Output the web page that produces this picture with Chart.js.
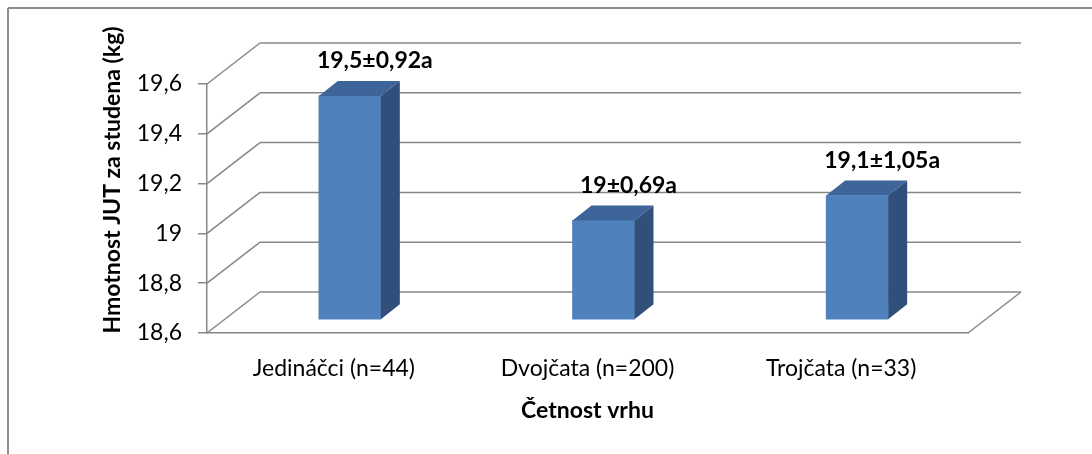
<!DOCTYPE html>
<html>
<head>
<meta charset="utf-8">
<script src="https://cdn.jsdelivr.net/npm/chart.js@4.4.1/dist/chart.umd.min.js"></script>
<style>
    html, body { margin: 0; padding: 0; background: #ffffff; }
    canvas { display: block; }
</style>
</head>
<body>
<canvas id="weightChart" width="1092" height="454"></canvas>
<script>
// ------------------------------------------------------
// Data
// ------------------------------------------------------

const categories = ["Jedináčci (n=44)", "Dvojčata (n=200)", "Trojčata (n=33)"];

const means = [19.5, 19.0, 19.1];

const deviations = [0.92, 0.69, 1.05];

const letters = ["a", "a", "a"];

const yTicks = [18.6, 18.8, 19.0, 19.2, 19.4, 19.6];

const yTitle = "Hmotnost JUT za studena (kg)";

const xTitle = "Četnost vrhu";

// ------------------------------------------------------
// Look of the fake 3D box
// ------------------------------------------------------

const FONT = "Lato, 'Open Sans', sans-serif";

const GRID = "#878787";

const WALL = { dx: 53, dy: -41 };       // back wall offset
const BAR_SHIFT = { dx: 16, dy: -13 };  // bars stand a bit inside the box
const BAR_DEPTH = { dx: 19, dy: -15 };  // thickness of each column

const FRONT = "#4f81bd";
const TOP = "#3d659a";
const SIDE = "#30507b";

function comma(v) {
    return String(+v.toFixed(2)).replace(".", ",");
}

function line(ctx, x1, y1, x2, y2) {
    ctx.beginPath();
    ctx.moveTo(x1, y1);
    ctx.lineTo(x2, y2);
    ctx.stroke();
}

// walls, floor and the outer frame
const boxPlugin = {
    id: "box",
    beforeDraw(chart) {
        const ctx = chart.ctx;
        const area = chart.chartArea;
        const y = chart.scales.y;

        ctx.save();

        // frame
        ctx.strokeStyle = "#8c8c8c";
        ctx.lineWidth = 2;
        line(ctx, 8, 8, 1092, 8);
        line(ctx, 8, 8, 8, 454);

        ctx.strokeStyle = GRID;
        ctx.lineWidth = 1.5;

        yTicks.forEach(v => {
            const py = y.getPixelForValue(v);
            line(ctx, area.left, py, area.left + WALL.dx, py + WALL.dy);
            line(ctx, area.left + WALL.dx, py + WALL.dy, area.right + WALL.dx, py + WALL.dy);
        });

        // floor right edge
        line(ctx, area.right, area.bottom, area.right + WALL.dx, area.bottom + WALL.dy);

        ctx.restore();
    },
    beforeDatasetsDraw(chart) {
        chart.ctx.save();
        chart.ctx.translate(BAR_SHIFT.dx, BAR_SHIFT.dy);
    },
    afterDatasetsDraw(chart) {
        const ctx = chart.ctx;
        ctx.restore();

        const meta = chart.getDatasetMeta(0);

        meta.data.forEach((bar, i) => {
            const p = bar.getProps(["x", "y", "base", "width"], true);
            const l = p.x - p.width / 2 + BAR_SHIFT.dx;
            const r = p.x + p.width / 2 + BAR_SHIFT.dx;
            const t = p.y + BAR_SHIFT.dy;
            const b = p.base + BAR_SHIFT.dy;

            // top face
            ctx.fillStyle = TOP;
            ctx.beginPath();
            ctx.moveTo(l, t);
            ctx.lineTo(l + BAR_DEPTH.dx, t + BAR_DEPTH.dy);
            ctx.lineTo(r + BAR_DEPTH.dx, t + BAR_DEPTH.dy);
            ctx.lineTo(r, t);
            ctx.closePath();
            ctx.fill();

            // side face
            ctx.fillStyle = SIDE;
            ctx.beginPath();
            ctx.moveTo(r, t);
            ctx.lineTo(r + BAR_DEPTH.dx, t + BAR_DEPTH.dy);
            ctx.lineTo(r + BAR_DEPTH.dx, b + BAR_DEPTH.dy);
            ctx.lineTo(r, b);
            ctx.closePath();
            ctx.fill();

            // value label
            ctx.fillStyle = "#000000";
            ctx.font = "bold 23px " + FONT;
            ctx.textAlign = "center";
            ctx.textBaseline = "middle";
            const text = comma(means[i]) + "±" + comma(deviations[i]) + letters[i];
            ctx.fillText(text, p.x + BAR_SHIFT.dx + 25, t - 35);
        });
    },
    afterDraw(chart) {
        const ctx = chart.ctx;
        ctx.save();
        ctx.translate(113, 180);
        ctx.rotate(-Math.PI / 2);
        ctx.fillStyle = "#000000";
        ctx.font = "bold 23px " + FONT;
        ctx.textAlign = "center";
        ctx.textBaseline = "middle";
        ctx.fillText(yTitle, 0, 0);
        ctx.restore();
    }
};

new Chart(document.getElementById("weightChart"), {
    type: "bar",
    data: {
        labels: categories,
        datasets: [{
            data: means,
            base: yTicks[0],
            backgroundColor: FRONT,
            barThickness: 62,
            clip: false
        }]
    },
    options: {
        responsive: false,
        devicePixelRatio: 1,
        animation: false,
        layout: {
            padding: { left: 0, top: 84, right: 124, bottom: 0 }
        },
        plugins: {
            legend: { display: false },
            tooltip: { enabled: false }
        },
        scales: {
            x: {
                grid: { display: false, drawTicks: false },
                border: { display: true, color: GRID, width: 1.5 },
                ticks: {
                    color: "#000000",
                    font: { family: FONT, size: 23 },
                    padding: 22,
                    maxRotation: 0
                },
                title: {
                    display: true,
                    text: xTitle,
                    color: "#000000",
                    font: { family: FONT, size: 23, weight: "bold" },
                    padding: { top: 4, bottom: 30 }
                },
                afterFit(scale) {
                    scale.height = 121;
                }
            },
            y: {
                min: 18.6,
                max: 19.6,
                afterBuildTicks(scale) {
                    scale.ticks = yTicks.map(v => ({ value: v }));
                },
                grid: {
                    drawOnChartArea: false,
                    drawTicks: true,
                    tickLength: 9,
                    color: GRID,
                    lineWidth: 1.5
                },
                border: { display: true, color: GRID, width: 1.5 },
                ticks: {
                    color: "#000000",
                    font: { family: FONT, size: 23 },
                    padding: 16,
                    callback: v => comma(v)
                },
                afterFit(scale) {
                    scale.width = 207;
                }
            }
        }
    },
    plugins: [boxPlugin]
});
</script>
</body>
</html>
